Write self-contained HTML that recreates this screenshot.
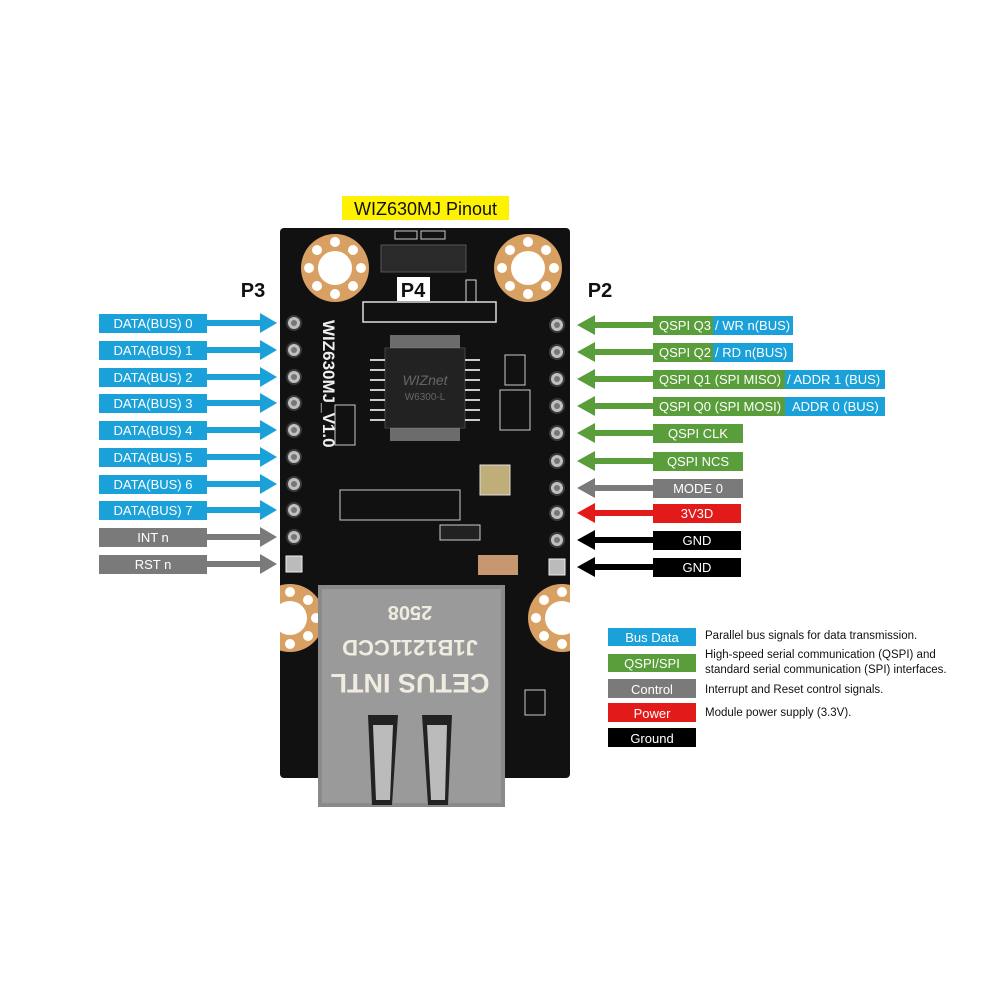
<!DOCTYPE html>
<html><head><meta charset="utf-8"><style>
html,body{margin:0;padding:0;background:#fff;}
svg{display:block;font-family:"Liberation Sans",sans-serif;}
</style></head><body>
<svg width="1000" height="1000" viewBox="0 0 1000 1000" xmlns="http://www.w3.org/2000/svg">
<defs>
<g id="mh"><circle r="34" fill="#d9a064"/><circle r="17" fill="#fff"/>
<circle cx="0" cy="-26" r="5" fill="#fff"/><circle cx="0" cy="26" r="5" fill="#fff"/><circle cx="-26" cy="0" r="5" fill="#fff"/><circle cx="26" cy="0" r="5" fill="#fff"/>
<circle cx="18" cy="18" r="5" fill="#fff"/><circle cx="-18" cy="18" r="5" fill="#fff"/><circle cx="18" cy="-18" r="5" fill="#fff"/><circle cx="-18" cy="-18" r="5" fill="#fff"/></g>
<g id="pin"><circle r="8" fill="#3a3a3a"/><circle r="6" fill="#bfbfbf"/><circle r="3" fill="#777"/></g>
<clipPath id="bc"><rect x="280" y="228" width="290" height="550"/></clipPath>
</defs>
<rect x="342" y="196" width="167" height="24" fill="#fff200"/>
<text x="425.5" y="215" font-size="18" text-anchor="middle" fill="#111">WIZ630MJ Pinout</text>
<rect x="280" y="228" width="290" height="550" rx="4" fill="#111"/>
<use href="#mh" x="335" y="268"/><use href="#mh" x="528" y="268"/>
<g clip-path="url(#bc)"><use href="#mh" x="290" y="618"/><use href="#mh" x="562" y="618"/></g>
<rect x="381" y="245" width="85" height="27" fill="#2a2a2a" stroke="#555"/>
<rect x="395" y="231" width="22" height="8" fill="none" stroke="#ccc"/><rect x="421" y="231" width="24" height="8" fill="none" stroke="#ccc"/>
<rect x="363" y="302" width="133" height="20" fill="none" stroke="#ddd" stroke-width="1.5"/>
<rect x="466" y="280" width="10" height="22" fill="none" stroke="#ddd"/>
<rect x="397" y="277" width="33" height="24" fill="#fff"/>
<text x="413" y="297" font-size="20" font-weight="bold" fill="#111" text-anchor="middle">P4</text>
<rect x="385" y="348" width="80" height="80" fill="#222" stroke="#444"/>
<g stroke="#ccc" stroke-width="2">
<line x1="370" y1="360" x2="385" y2="360"/><line x1="370" y1="370" x2="385" y2="370"/><line x1="370" y1="380" x2="385" y2="380"/><line x1="370" y1="390" x2="385" y2="390"/><line x1="370" y1="400" x2="385" y2="400"/><line x1="370" y1="410" x2="385" y2="410"/><line x1="370" y1="420" x2="385" y2="420"/>
<line x1="465" y1="360" x2="480" y2="360"/><line x1="465" y1="370" x2="480" y2="370"/><line x1="465" y1="380" x2="480" y2="380"/><line x1="465" y1="390" x2="480" y2="390"/><line x1="465" y1="400" x2="480" y2="400"/><line x1="465" y1="410" x2="480" y2="410"/><line x1="465" y1="420" x2="480" y2="420"/>
</g>
<rect x="390" y="335" width="70" height="13" fill="#aaa" opacity=".6"/><rect x="390" y="428" width="70" height="13" fill="#aaa" opacity=".6"/>
<text x="425" y="385" font-size="14" font-style="italic" fill="#666" text-anchor="middle">WIZnet</text>
<text x="425" y="400" font-size="10" fill="#666" text-anchor="middle">W6300-L</text>
<text x="323" y="320" font-size="17" font-weight="bold" fill="#eee" transform="rotate(90 323 320)">WIZ630MJ_V1.0</text>
<rect x="480" y="465" width="30" height="30" fill="#bfae7a" stroke="#ddd"/>
<rect x="335" y="405" width="20" height="40" fill="none" stroke="#ccc"/>
<rect x="340" y="490" width="120" height="30" fill="none" stroke="#ccc"/>
<rect x="505" y="355" width="20" height="30" fill="none" stroke="#ccc"/><rect x="500" y="390" width="30" height="40" fill="none" stroke="#ccc"/>
<rect x="440" y="525" width="40" height="15" fill="#222" stroke="#ccc"/>
<rect x="478" y="555" width="40" height="20" fill="#c79870"/>
<use href="#pin" x="294" y="323"/><use href="#pin" x="294" y="350"/><use href="#pin" x="294" y="377"/><use href="#pin" x="294" y="403"/><use href="#pin" x="294" y="430"/><use href="#pin" x="294" y="457"/><use href="#pin" x="294" y="484"/><use href="#pin" x="294" y="510"/><use href="#pin" x="294" y="537"/>
<rect x="286" y="556" width="16" height="16" fill="#bbb" stroke="#eee"/>
<use href="#pin" x="557" y="325"/><use href="#pin" x="557" y="352"/><use href="#pin" x="557" y="379"/><use href="#pin" x="557" y="406"/><use href="#pin" x="557" y="433"/><use href="#pin" x="557" y="461"/><use href="#pin" x="557" y="488"/><use href="#pin" x="557" y="513"/><use href="#pin" x="557" y="540"/>
<rect x="549" y="559" width="16" height="16" fill="#bbb" stroke="#eee"/>
<rect x="318" y="585" width="187" height="222" fill="#8a8a8a"/>
<rect x="322" y="589" width="179" height="214" fill="#9a9a9a"/>
<text x="410" y="620" font-size="20" font-weight="bold" fill="#f0ece0" text-anchor="middle" transform="rotate(180 410 613)">2508</text>
<text x="410" y="654" font-size="22" font-weight="bold" fill="#f0ece0" text-anchor="middle" transform="rotate(180 410 647)">J1B1211CCD</text>
<text x="410" y="692" font-size="27" font-weight="bold" fill="#f0ece0" text-anchor="middle" transform="rotate(180 410 683)">CETUS INTL</text>
<path d="M368 715 h30 l-6 90 h-20 z" fill="#222"/><path d="M422 715 h30 l-4 90 h-20 z" fill="#222"/>
<path d="M373 725 h20 l-3 75 h-14 z" fill="#bbb"/><path d="M427 725 h20 l-2 75 h-14 z" fill="#bbb"/>
<rect x="525" y="690" width="20" height="25" fill="none" stroke="#ccc"/>
<text x="253" y="297" font-size="20" font-weight="bold" fill="#111" text-anchor="middle">P3</text>
<text x="600" y="297" font-size="20" font-weight="bold" fill="#111" text-anchor="middle">P2</text>
<g font-size="13" fill="#fff" text-anchor="middle">
<g fill="#1ba1da">
<rect x="99" y="314" width="108" height="19"/><rect x="99" y="341" width="108" height="19"/><rect x="99" y="368" width="108" height="19"/><rect x="99" y="394" width="108" height="19"/><rect x="99" y="421" width="108" height="19"/><rect x="99" y="448" width="108" height="19"/><rect x="99" y="475" width="108" height="19"/><rect x="99" y="501" width="108" height="19"/>
<path d="M207 320h53v-7l17 10-17 10v-7h-53z"/><path d="M207 347h53v-7l17 10-17 10v-7h-53z"/><path d="M207 374h53v-7l17 10-17 10v-7h-53z"/><path d="M207 400h53v-7l17 10-17 10v-7h-53z"/><path d="M207 427h53v-7l17 10-17 10v-7h-53z"/><path d="M207 454h53v-7l17 10-17 10v-7h-53z"/><path d="M207 481h53v-7l17 10-17 10v-7h-53z"/><path d="M207 507h53v-7l17 10-17 10v-7h-53z"/>
</g>
<g fill="#7a7a7a">
<rect x="99" y="528" width="108" height="19"/><rect x="99" y="555" width="108" height="19"/>
<path d="M207 534h53v-7l17 10-17 10v-7h-53z"/><path d="M207 561h53v-7l17 10-17 10v-7h-53z"/>
</g>
<text x="153" y="328">DATA(BUS) 0</text><text x="153" y="355">DATA(BUS) 1</text><text x="153" y="382">DATA(BUS) 2</text><text x="153" y="408">DATA(BUS) 3</text><text x="153" y="435">DATA(BUS) 4</text><text x="153" y="462">DATA(BUS) 5</text><text x="153" y="489">DATA(BUS) 6</text><text x="153" y="515">DATA(BUS) 7</text><text x="153" y="542">INT n</text><text x="153" y="569">RST n</text>
</g>
<g font-size="13" fill="#fff">
<g fill="#5a9e3c">
<path d="M653 322h-58v-7l-18 10 18 10v-7h58z"/><path d="M653 349h-58v-7l-18 10 18 10v-7h58z"/><path d="M653 376h-58v-7l-18 10 18 10v-7h58z"/><path d="M653 403h-58v-7l-18 10 18 10v-7h58z"/><path d="M653 430h-58v-7l-18 10 18 10v-7h58z"/><path d="M653 458h-58v-7l-18 10 18 10v-7h58z"/>
<rect x="653" y="316" width="60" height="19"/><rect x="653" y="343" width="60" height="19"/><rect x="653" y="370" width="132" height="19"/><rect x="653" y="397" width="132" height="19"/><rect x="653" y="424" width="90" height="19"/><rect x="653" y="452" width="90" height="19"/>
</g>
<g fill="#1ba1da"><rect x="713" y="316" width="80" height="19"/><rect x="713" y="343" width="80" height="19"/><rect x="785" y="370" width="100" height="19"/><rect x="785" y="397" width="100" height="19"/></g>
<path fill="#7a7a7a" d="M653 485h-58v-7l-18 10 18 10v-7h58z"/><rect fill="#7a7a7a" x="653" y="479" width="90" height="19"/>
<path fill="#e31a1a" d="M653 510h-58v-7l-18 10 18 10v-7h58z"/><rect fill="#e31a1a" x="653" y="504" width="88" height="19"/>
<path fill="#000" d="M653 537h-58v-7l-18 10 18 10v-7h58z"/><rect fill="#000" x="653" y="531" width="88" height="19"/>
<path fill="#000" d="M653 564h-58v-7l-18 10 18 10v-7h58z"/><rect fill="#000" x="653" y="558" width="88" height="19"/>
<text x="659" y="330">QSPI Q3</text><text x="715" y="330">/ WR n(BUS)</text>
<text x="659" y="357">QSPI Q2</text><text x="715" y="357">/ RD n(BUS)</text>
<text x="659" y="384">QSPI Q1 (SPI MISO)</text><text x="787" y="384">/ ADDR 1 (BUS)</text>
<text x="659" y="411">QSPI Q0 (SPI MOSI)</text><text x="792" y="411">ADDR 0 (BUS)</text>
<g text-anchor="middle"><text x="698" y="438">QSPI CLK</text><text x="698" y="466">QSPI NCS</text><text x="698" y="493">MODE 0</text><text x="697" y="518">3V3D</text><text x="697" y="545">GND</text><text x="697" y="572">GND</text></g>
</g>
<g font-size="13" text-anchor="middle" fill="#fff">
<rect x="608" y="628" width="88" height="18" fill="#1ba1da"/><text x="652" y="642">Bus Data</text>
<rect x="608" y="654" width="88" height="18" fill="#5a9e3c"/><text x="652" y="668">QSPI/SPI</text>
<rect x="608" y="679" width="88" height="19" fill="#7a7a7a"/><text x="652" y="694">Control</text>
<rect x="608" y="703" width="88" height="19" fill="#e31a1a"/><text x="652" y="718">Power</text>
<rect x="608" y="728" width="88" height="19" fill="#000"/><text x="652" y="743">Ground</text>
</g>
<g font-size="11.5" fill="#111">
<text x="705" y="639">Parallel bus signals for data transmission.</text>
<text x="705" y="658">High-speed serial communication (QSPI) and</text>
<text x="705" y="673">standard serial communication (SPI) interfaces.</text>
<text x="705" y="693">Interrupt and Reset control signals.</text>
<text x="705" y="716">Module power supply (3.3V).</text>
</g>
</svg>
</body></html>
